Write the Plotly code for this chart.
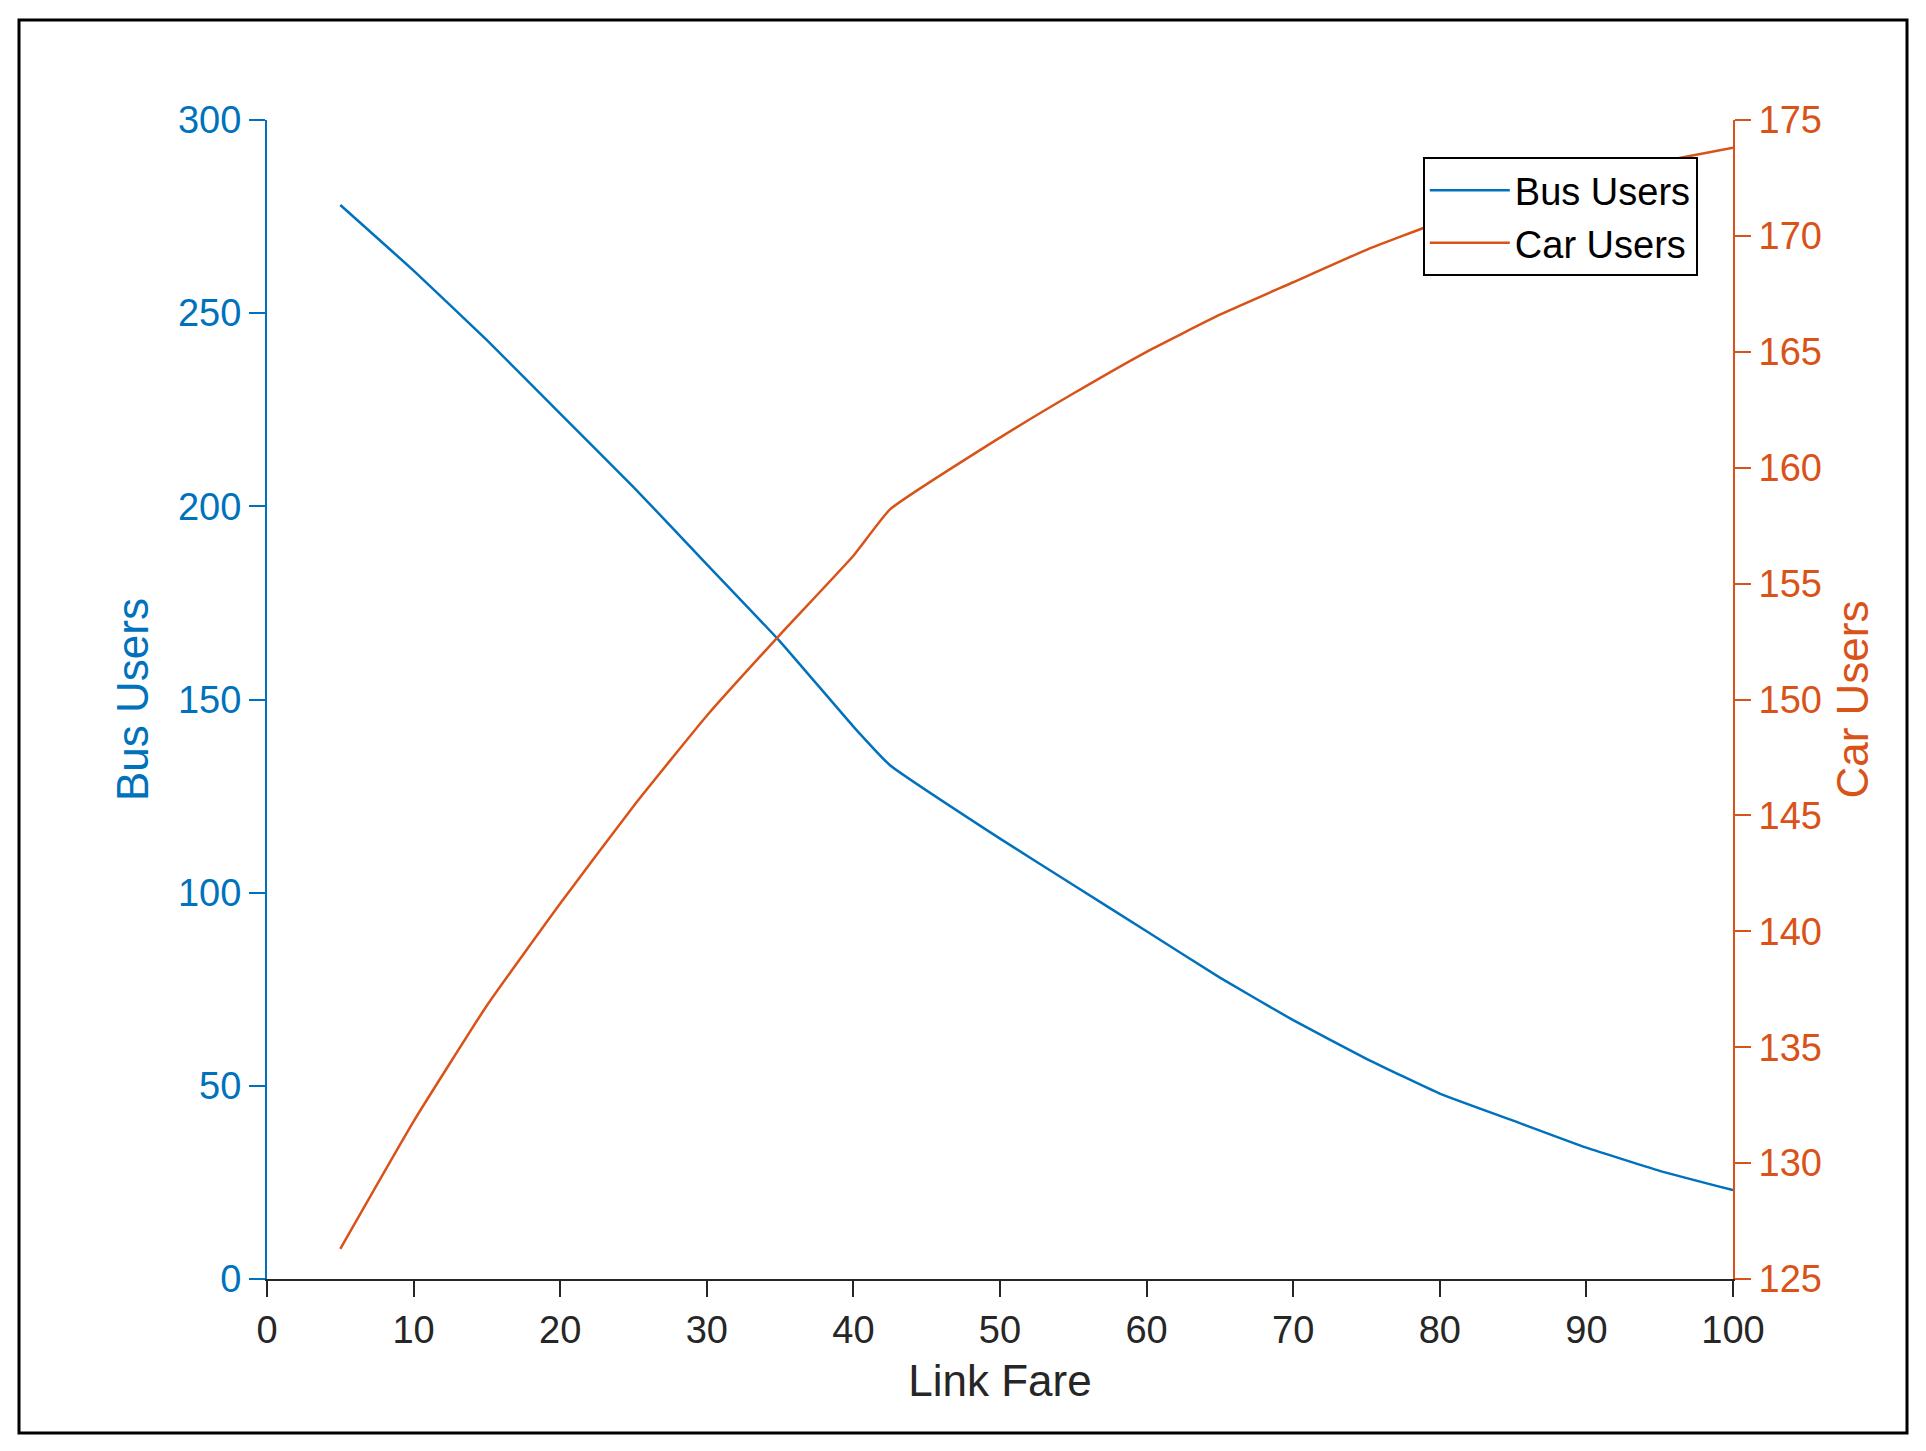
import plotly.graph_objects as go

fare = [5, 10, 15, 20, 25, 30, 35, 40, 42.5, 50, 55, 60, 65, 70, 75, 80, 85, 90, 95, 100]
bus_users = [278, 261, 243, 224, 205, 185, 165, 143, 133, 114, 102, 90, 78, 67, 57, 48, 41, 34, 28, 23]
car_users = [126.3, 131.8, 136.8, 141.2, 145.4, 149.3, 152.8, 156.2, 158.2, 161.3, 163.2, 165.0, 166.6, 168.0, 169.4, 170.6, 171.6, 172.5, 173.2, 173.8]

blue = "#0072BD"
orange = "#D95319"
font = "Liberation Sans, Arial, sans-serif"

fig = go.Figure()
fig.add_trace(go.Scatter(x=fare, y=bus_users, mode="lines", name="Bus Users",
                         line=dict(color=blue, width=2.5, shape="spline", smoothing=0.4)))
fig.add_trace(go.Scatter(x=fare, y=car_users, mode="lines", name="Car Users",
                         line=dict(color=orange, width=2.5, shape="spline", smoothing=0.4), yaxis="y2"))

W, H = 1926, 1451
L, R, T, B = 259, 1725, 112, 1271
fig.update_layout(
    width=W, height=H, plot_bgcolor="white", paper_bgcolor="white",
    margin=dict(l=L, r=W - R, t=T, b=H - B),
    font=dict(family=font, size=38, color="#262626"),
    showlegend=True,
    legend=dict(x=0.976, y=0.968, xanchor="right", yanchor="top",
                bgcolor="white", bordercolor="black", borderwidth=2,
                itemwidth=80, font=dict(size=38, color="black")),
    xaxis=dict(range=[0, 100], tickvals=list(range(0, 101, 10)),
               showline=True, linecolor="#262626", linewidth=2, mirror=False,
               ticks="outside", ticklen=16, tickwidth=2, tickcolor="#262626",
               showgrid=False, zeroline=False,
               title=dict(text="Link Fare", font=dict(size=44, color="#262626"), standoff=16)),
    yaxis=dict(range=[0, 300], tickvals=list(range(0, 301, 50)),
               showline=True, linecolor=blue, linewidth=2,
               ticks="outside", ticklen=16, tickwidth=2, tickcolor=blue,
               tickfont=dict(color=blue, size=38), showgrid=False, zeroline=False,
               title=dict(text="Bus Users", font=dict(size=44, color=blue), standoff=16)),
    yaxis2=dict(range=[125, 175], tickvals=list(range(125, 176, 5)),
                overlaying="y", side="right", anchor="x",
                showline=True, linecolor=orange, linewidth=2,
                ticks="outside", ticklen=16, tickwidth=2, tickcolor=orange,
                tickfont=dict(color=orange, size=38), showgrid=False, zeroline=False,
                title=dict(text="Car Users", font=dict(size=44, color=orange), standoff=16)),
    shapes=[dict(type="rect", xref="paper", yref="paper",
                 x0=(11 - L) / (R - L), x1=(1899 - L) / (R - L),
                 y0=(B - 1425) / (B - T), y1=(B - 12) / (B - T),
                 line=dict(color="black", width=3), layer="below")],
)
fig.write_html("out.html")
